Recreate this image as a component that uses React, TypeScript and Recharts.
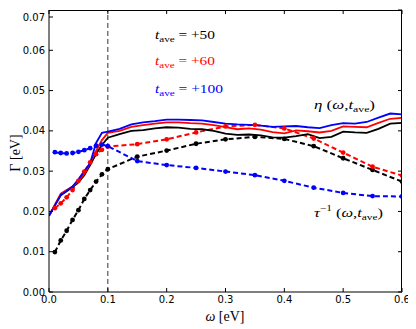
import React from 'react';
import { LineChart, Line, XAxis, YAxis, ReferenceLine } from 'recharts';

// omega grid of the solid eta curves
const wSolid = [
  0, 0.01, 0.02, 0.03, 0.04, 0.05, 0.06, 0.07, 0.08, 0.09, 0.1,
  0.12, 0.14, 0.16, 0.18, 0.2, 0.22, 0.24, 0.26, 0.28, 0.3,
  0.32, 0.34, 0.36, 0.38, 0.4, 0.42, 0.44, 0.46, 0.48, 0.5,
  0.52, 0.54, 0.56, 0.58, 0.6,
];
const etaT50 = [
  0.0189, 0.0215, 0.024, 0.025, 0.026, 0.0272, 0.029, 0.0315, 0.0343, 0.0365, 0.0383,
  0.0392, 0.04, 0.0402, 0.0406, 0.0409, 0.0408, 0.0405, 0.0404, 0.04, 0.0393,
  0.039, 0.0391, 0.0389, 0.0384, 0.0383, 0.0387, 0.0392, 0.0382, 0.0385, 0.0398,
  0.0396, 0.0395, 0.0405, 0.0418, 0.042,
];
const etaT60 = [
  0.0189, 0.0217, 0.0244, 0.0253, 0.0262, 0.0275, 0.0293, 0.032, 0.035, 0.0377, 0.0395,
  0.04, 0.041, 0.0414, 0.0418, 0.0421, 0.0421, 0.0419, 0.0418, 0.0414, 0.0409,
  0.0404, 0.0406, 0.0403, 0.0397, 0.0394, 0.0401, 0.0399, 0.0396, 0.04, 0.0411,
  0.041, 0.0409, 0.042, 0.043, 0.0432,
];
const etaT100 = [
  0.0189, 0.0215, 0.0241, 0.0251, 0.0262, 0.028, 0.03, 0.032, 0.037, 0.0395, 0.0398,
  0.0405, 0.0416, 0.0421, 0.0424, 0.0428, 0.0428, 0.0427, 0.0426, 0.0422, 0.0418,
  0.0416, 0.0415, 0.0413, 0.041, 0.0411, 0.0412, 0.0409, 0.0407, 0.0414, 0.0419,
  0.0418, 0.0422, 0.0433, 0.0443, 0.0441,
];

// omega points of the dotted tau^-1 curves
const wDot = [
  0.01, 0.02, 0.03, 0.04, 0.05, 0.06, 0.07, 0.08, 0.09, 0.1,
  0.15, 0.2, 0.25, 0.3, 0.35, 0.4, 0.45, 0.5, 0.55, 0.6,
];
const tauT50 = [
  0.0099, 0.0128, 0.0152, 0.0179, 0.0203, 0.0231, 0.0253, 0.0274, 0.0292, 0.0305,
  0.0336, 0.0351, 0.0368, 0.0379, 0.0385, 0.038, 0.0362, 0.0332, 0.0303, 0.0274,
];
const tauT60 = [
  0.0208, 0.022, 0.0235, 0.0253, 0.0276, 0.0299, 0.0322, 0.0342, 0.0353, 0.0361,
  0.0367, 0.0379, 0.0396, 0.0411, 0.0415, 0.0406, 0.0381, 0.0346, 0.0311, 0.0289,
];
const tauT100 = [
  0.0347, 0.0345, 0.0344, 0.0345, 0.0348, 0.0352, 0.0357, 0.0363, 0.0366, 0.0362,
  0.0325, 0.0315, 0.0308, 0.0299, 0.029, 0.0276, 0.0259, 0.0246, 0.0238, 0.0237,
];

const xTicks = [0, 0.1, 0.2, 0.3, 0.4, 0.5, 0.6];
const yTicks = [0, 0.01, 0.02, 0.03, 0.04, 0.05, 0.06, 0.07];

const X_MAX = 0.6;
const Y_MAX = 0.07;

const toRows = (w: number[], v: number[]) => w.map((x, i) => ({ w: x, v: v[i] }));

const TICK_FONT = 'DejaVu Sans, sans-serif';
const MATH_FONT = 'Liberation Serif, serif';
const TL = 4; // inward tick length, px

// chart layout (px)
const W = 408;
const H = 320;
const M = { top: 2, right: 14, bottom: 0, left: 0 };
const Y_AXIS_W = 41;
const X_AXIS_H = 36;
const PX = M.left + Y_AXIS_W;
const PY = M.top;
const PW = W - M.right - PX;
const PH = H - M.bottom - X_AXIS_H - PY;

const BottomTick = (p: any) => (
  <g>
    <line x1={p.x} x2={p.x} y1={p.y} y2={p.y - TL} stroke="#000" />
    <text x={p.x} y={p.y + 11} textAnchor="middle" fontSize={10} fontFamily={TICK_FONT} fill="#000">
      {Number(p.payload.value).toFixed(1)}
    </text>
  </g>
);
const LeftTick = (p: any) => (
  <g>
    <line x1={p.x} x2={p.x + TL} y1={p.y} y2={p.y} stroke="#000" />
    <text x={p.x - 4} y={p.y + 3.6} textAnchor="end" fontSize={10} fontFamily={TICK_FONT} fill="#000">
      {Number(p.payload.value).toFixed(2)}
    </text>
  </g>
);

function TLabel({ x, y, color, value, len }: { x: number; y: number; color: string; value: string; len: number }) {
  return (
    <text x={x} y={y} fontFamily={MATH_FONT} fontSize={12.5} fill={color} textLength={len} lengthAdjust="spacingAndGlyphs">
      <tspan fontStyle="italic">t</tspan>
      <tspan fontSize={9} dy={3}>ave</tspan>
      <tspan dy={-3}>{` = ${value}`}</tspan>
    </text>
  );
}

export default function App() {
  const dotted = (color: string) => ({
    stroke: color,
    strokeWidth: 2,
    strokeDasharray: '5 3',
    dot: { r: 2.4, fill: color, stroke: 'none' },
  });
  return (
    <div style={{ position: 'relative', width: W, height: H }}>
      <LineChart width={W} height={H} margin={M}>
        <XAxis
          dataKey="w"
          type="number"
          domain={[0, X_MAX]}
          ticks={xTicks}
          tickSize={0}
          tickMargin={0}
          tickLine={false}
          tick={BottomTick}
          height={X_AXIS_H}
          axisLine={{ stroke: '#000' }}
          allowDataOverflow
        />
        <YAxis
          type="number"
          domain={[0, Y_MAX]}
          ticks={yTicks}
          tickSize={0}
          tickMargin={0}
          tickLine={false}
          tick={LeftTick}
          width={Y_AXIS_W}
          axisLine={{ stroke: '#000' }}
          allowDataOverflow
        />

        <ReferenceLine x={0.1} stroke="#000" strokeWidth={0.8} strokeDasharray="5 3" />

        <Line data={toRows(wDot, tauT50)} dataKey="v" {...dotted('#000000')} isAnimationActive={false} />
        <Line data={toRows(wDot, tauT60)} dataKey="v" {...dotted('#ff0000')} isAnimationActive={false} />
        <Line data={toRows(wDot, tauT100)} dataKey="v" {...dotted('#0000ff')} isAnimationActive={false} />

        <Line data={toRows(wSolid, etaT50)} dataKey="v" stroke="#000000" strokeWidth={1.8} dot={false} isAnimationActive={false} />
        <Line data={toRows(wSolid, etaT60)} dataKey="v" stroke="#ff0000" strokeWidth={1.8} dot={false} isAnimationActive={false} />
        <Line data={toRows(wSolid, etaT100)} dataKey="v" stroke="#0000ff" strokeWidth={1.8} dot={false} isAnimationActive={false} />
      </LineChart>

      {/* overlay: top/right frame with inward ticks, annotations, axis titles */}
      <svg width={W} height={H} style={{ position: 'absolute', left: 0, top: 0, pointerEvents: 'none' }}>
        <line x1={PX} x2={PX + PW} y1={PY + 0.5} y2={PY + 0.5} stroke="#000" />
        <line x1={PX + PW - 0.5} x2={PX + PW - 0.5} y1={PY} y2={PY + PH} stroke="#000" />
        {xTicks.map((t) => {
          const x = PX + (t / X_MAX) * PW;
          return <line key={'tx' + t} x1={x} x2={x} y1={PY} y2={PY + TL} stroke="#000" />;
        })}
        {yTicks.map((t) => {
          const y = PY + PH - (t / Y_MAX) * PH;
          return <line key={'ty' + t} x1={PX + PW} x2={PX + PW - TL} y1={y} y2={y} stroke="#000" />;
        })}

        <TLabel x={147} y={30.5} color="#000" value="+50" len={60} />
        <TLabel x={147} y={57} color="#ff0000" value="+60" len={60} />
        <TLabel x={147} y={85} color="#0000ff" value="+100" len={68} />

        <text x={306} y={101} fontFamily={MATH_FONT} fontSize={13} fill="#000" textLength={61} lengthAdjust="spacingAndGlyphs">
          <tspan fontStyle="italic">η</tspan>
          <tspan>{' ('}</tspan>
          <tspan fontStyle="italic">ω</tspan>
          <tspan>,</tspan>
          <tspan fontStyle="italic">t</tspan>
          <tspan fontSize={9} dy={3}>ave</tspan>
          <tspan dy={-3}>)</tspan>
        </text>
        <text x={306} y={209} fontFamily={MATH_FONT} fontSize={13} fill="#000" textLength={69} lengthAdjust="spacingAndGlyphs">
          <tspan fontStyle="italic">τ</tspan>
          <tspan fontSize={9} dy={-6}>−1</tspan>
          <tspan dy={6}>{' ('}</tspan>
          <tspan fontStyle="italic">ω</tspan>
          <tspan>,</tspan>
          <tspan fontStyle="italic">t</tspan>
          <tspan fontSize={9} dy={3}>ave</tspan>
          <tspan dy={-3}>)</tspan>
        </text>

        <text x={217} y={313} textAnchor="middle" fontFamily={MATH_FONT} fontSize={14} fill="#000">
          <tspan fontStyle="italic">ω</tspan>
          <tspan>{' [eV]'}</tspan>
        </text>
        <text x={12} y={145} transform="rotate(-90 12 145)" textAnchor="middle" fontFamily={MATH_FONT} fontSize={14} fill="#000">
          Γ [eV]
        </text>
      </svg>
    </div>
  );
}
